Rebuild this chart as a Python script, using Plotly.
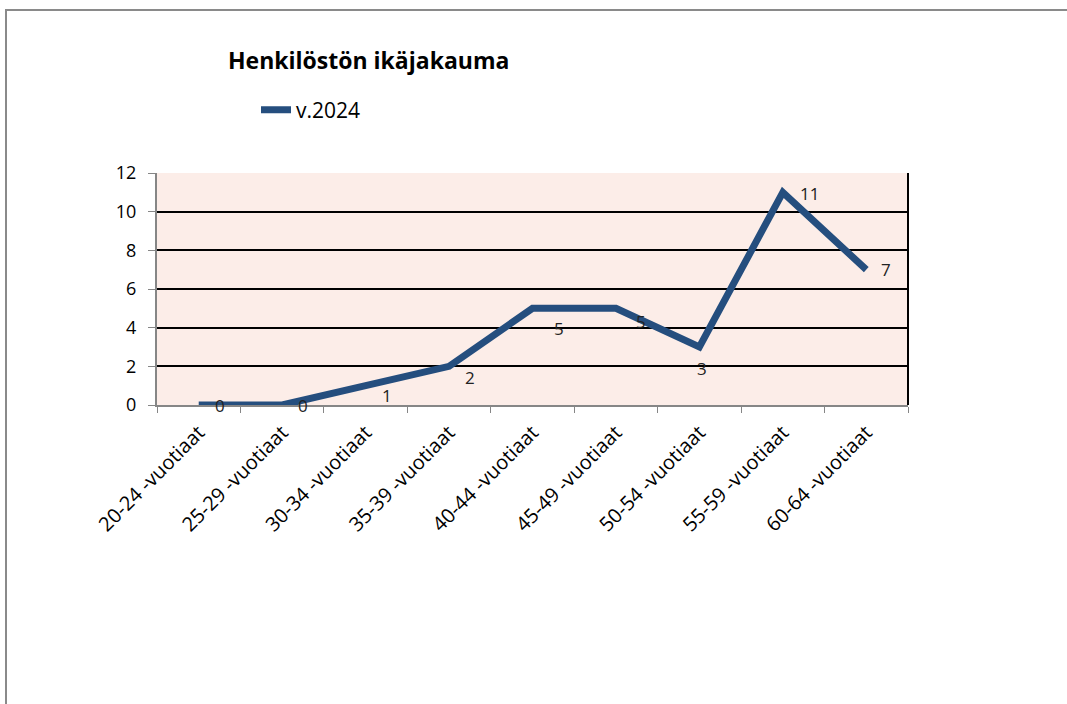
import plotly.graph_objects as go

categories = ["20-24 -vuotiaat", "25-29 -vuotiaat", "30-34 -vuotiaat", "35-39 -vuotiaat",
              "40-44 -vuotiaat", "45-49 -vuotiaat", "50-54 -vuotiaat", "55-59 -vuotiaat",
              "60-64 -vuotiaat"]
values = [0, 0, 1, 2, 5, 5, 3, 11, 7]
series_name = "v.2024"
title_text = "Henkilöstön ikäjakauma"
y_ticks = [0, 2, 4, 6, 8, 10, 12]

# label offsets (pixels) mimicking the original label placement
label_dx = [21, 21, 21, 21, 26, 25, 3, 27, 20]
label_dy = [0, 0, -10, -11, -20, -13, -21, -1, 0]

W, H = 1067, 704
L, R, T, B = 157, 908, 173, 405
FONT = "'Open Sans', 'Noto Sans', sans-serif"

fig = go.Figure()
fig.add_trace(go.Scatter(
    x=categories, y=values, mode="lines", name=series_name,
    line=dict(color="#254E7E", width=7), cliponaxis=False,
))

for c, v, dx, dy in zip(categories, values, label_dx, label_dy):
    fig.add_annotation(x=c, y=v, text=str(v), showarrow=False, xshift=dx, yshift=dy,
                       font=dict(family=FONT, size=17, color="#222222"))

def px_x(p):
    return (p - L) / (R - L)

def px_y(p):
    return (B - p) / (B - T)

fig.add_annotation(xref="paper", yref="paper", x=px_x(226), y=px_y(60),
                   xanchor="left", yanchor="middle", showarrow=False,
                   text="<b>" + title_text + "</b>",
                   font=dict(family=FONT, size=23, color="#000000"))

# outer frame
fig.add_shape(type="rect", xref="paper", yref="paper",
              x0=px_x(6), y0=px_y(720), x1=px_x(1080), y1=px_y(10),
              line=dict(color="#8A8A8A", width=2), fillcolor="rgba(0,0,0,0)", layer="below")
# right border of plot area
fig.add_shape(type="line", xref="paper", yref="paper", x0=1, x1=1, y0=0, y1=1,
              line=dict(color="#000000", width=2))

fig.update_layout(
    width=W, height=H,
    margin=dict(l=L, r=W - R, t=T, b=H - B, pad=0),
    paper_bgcolor="white", plot_bgcolor="#FCEDE8",
    showlegend=True,
    legend=dict(x=px_x(256), y=px_y(110), xanchor="left", yanchor="middle",
                font=dict(family=FONT, size=21, color="#000000"),
                bgcolor="rgba(0,0,0,0)", itemwidth=30),
    font=dict(family=FONT, color="#000000"),
)
fig.update_xaxes(
    type="category", tickangle=-45, tickson="boundaries", ticks="outside", ticklen=6,
    tickcolor="#868686", showline=True, linecolor="#868686", linewidth=2,
    showgrid=False, tickfont=dict(family=FONT, size=20, color="#000000"),
    ticklabelstandoff=6,
    range=[-0.5, len(categories) - 0.5],
)
fig.update_yaxes(
    range=[0, 12], tickvals=y_ticks, ticks="outside", ticklen=7, tickcolor="#868686",
    showline=True, linecolor="#868686", linewidth=2, showgrid=True,
    gridcolor="#000000", gridwidth=2, zeroline=False,
    ticklabelstandoff=8,
    tickfont=dict(family=FONT, size=18, color="#000000"),
)

fig.write_html("out.html", config={"displayModeBar": False},
               post_script="document.body.style.margin='0';")
